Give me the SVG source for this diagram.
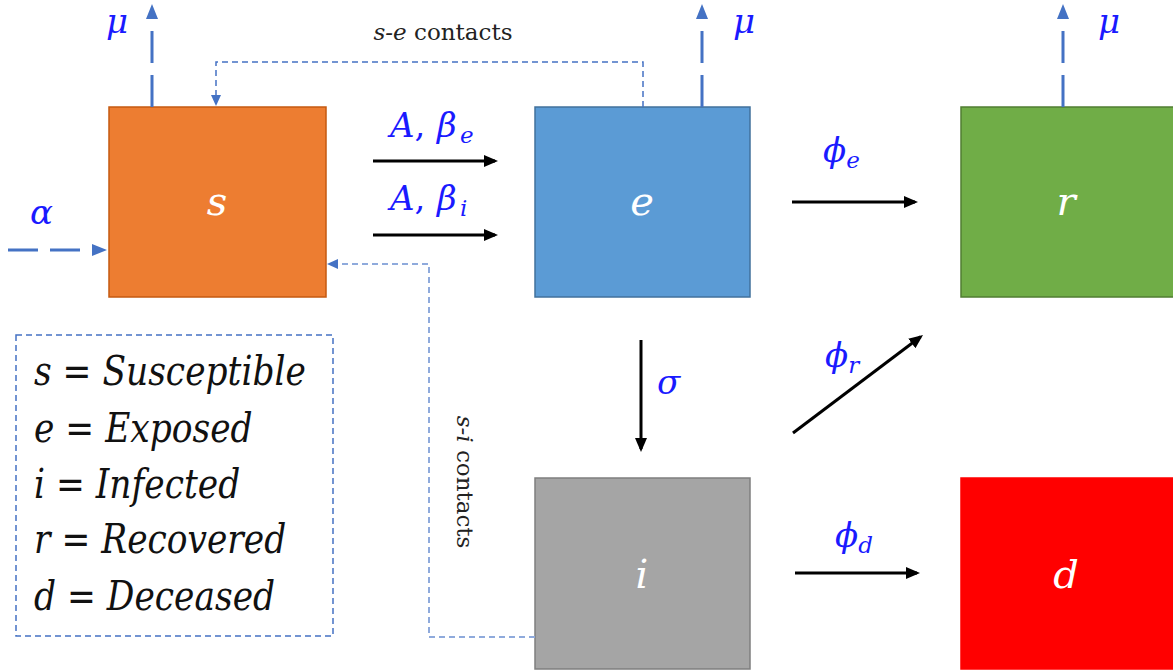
<svg xmlns="http://www.w3.org/2000/svg" width="1173" height="672" viewBox="0 0 1173 672">
<style>
.box{stroke-width:1.5}
.lbl{font-family:"DejaVu Serif",serif;font-style:italic;font-size:40px;fill:#ffffff;text-anchor:middle}
.math{font-family:"DejaVu Serif",serif;font-style:italic;font-size:34px;fill:#1a1aff}
.sub{font-size:23px}
.blk{stroke:#000;stroke-width:3;fill:none}
.mu{stroke:#4472c4;stroke-width:3;fill:none;stroke-dasharray:32 12}
.thin{stroke:#4472c4;stroke-width:1.5;fill:none;stroke-dasharray:6 4}
.light{stroke:#8faadc;stroke-width:2;fill:none;stroke-dasharray:6 4}
.note{font-family:"DejaVu Serif",serif;font-size:23px;fill:#222}
.leg{font-family:"DejaVu Serif",serif;font-style:italic;font-size:41px;fill:#111}
</style>
<defs>
<marker id="ab" markerUnits="userSpaceOnUse" markerWidth="14" markerHeight="12" viewBox="0 0 14 12" refX="11" refY="6" orient="auto"><path d="M0,0 L14,6 L0,12 z" fill="#000"/></marker>
<marker id="au" markerUnits="userSpaceOnUse" markerWidth="15" markerHeight="12" viewBox="0 0 15 12" refX="1" refY="6" orient="auto"><path d="M0,0 L15,6 L0,12 z" fill="#4472c4"/></marker>
<marker id="as" markerUnits="userSpaceOnUse" markerWidth="11" markerHeight="10" viewBox="0 0 11 10" refX="1" refY="5" orient="auto"><path d="M0,0 L11,5 L0,10 z" fill="#4472c4"/></marker>
</defs>

<g id="node-s"><rect class="box" x="109" y="107" width="217" height="190" fill="#ed7d31" stroke="#c55a11"/><text class="lbl" x="217" y="215">s</text></g>
<g id="node-e"><rect class="box" x="535" y="107" width="215" height="190" fill="#5b9bd5" stroke="#41719c"/><text class="lbl" x="642" y="215">e</text></g>
<g id="node-r"><rect class="box" x="961" y="107" width="220" height="190" fill="#70ad47" stroke="#507e32"/><text class="lbl" x="1066" y="215">r</text></g>
<g id="node-i"><rect class="box" x="535" y="478" width="215" height="191" fill="#a5a5a5" stroke="#7f7f7f"/><text class="lbl" x="642" y="588">i</text></g>
<g id="node-d"><rect class="box" x="961" y="478" width="220" height="191" fill="#ff0000" stroke="#ff0000"/><text class="lbl" x="1066" y="588">d</text></g>

<g id="legend">
<rect x="16" y="335" width="317" height="301" fill="none" stroke="#4472c4" stroke-width="1.5" stroke-dasharray="6 4"/>
<g transform="translate(34 0) scale(0.84 1)">
<text class="leg" x="0" y="385">s = Susceptible</text>
<text class="leg" x="0" y="442">e = Exposed</text>
<text class="leg" x="0" y="498">i = Infected</text>
<text class="leg" x="0" y="553">r = Recovered</text>
<text class="leg" x="0" y="610">d = Deceased</text>
</g>
</g>

<g id="connectors">
<path class="mu" d="M152 107 V18" marker-end="url(#au)"/>
<path class="mu" d="M702 107 V18" marker-end="url(#au)"/>
<path class="mu" d="M1063 107 V18" marker-end="url(#au)"/>
<path class="mu" style="stroke-dasharray:30 12" d="M8 250 H93" marker-end="url(#au)"/>
<path class="thin" d="M643 107 V62 H216 V96" marker-end="url(#as)"/>
<path class="light" d="M535 637 H429 V264 H337" marker-end="url(#as)"/>
<path class="blk" d="M373 161 H495" marker-end="url(#ab)"/>
<path class="blk" d="M373 235 H495" marker-end="url(#ab)"/>
<path class="blk" d="M792 202 H915" marker-end="url(#ab)"/>
<path class="blk" d="M641 340 V449" marker-end="url(#ab)"/>
<path class="blk" d="M793 433 L920.6 336.8" marker-end="url(#ab)"/>
<path class="blk" d="M795 573 H917" marker-end="url(#ab)"/>
</g>

<g id="labels">
<text class="math" x="106" y="33">μ</text>
<text class="math" x="733" y="33">μ</text>
<text class="math" x="1098" y="33">μ</text>
<text class="math" x="30" y="224">α</text>
<text class="math" x="390" y="137">A<tspan font-style="normal">,</tspan><tspan x="437">β</tspan><tspan class="sub" x="460" dy="6">e</tspan></text>
<text class="math" x="390" y="210">A<tspan font-style="normal">,</tspan><tspan x="437">β</tspan><tspan class="sub" x="460" dy="6">i</tspan></text>
<text class="math" x="823" y="162">ϕ<tspan class="sub" dy="6">e</tspan></text>
<text class="math" x="657" y="394">σ</text>
<text class="math" x="825" y="367">ϕ<tspan class="sub" dy="6">r</tspan></text>
<text class="math" x="835" y="547">ϕ<tspan class="sub" dy="6">d</tspan></text>
<text class="note" x="443" y="40" text-anchor="middle"><tspan font-style="italic">s-e</tspan> contacts</text>
<text class="note" transform="translate(457 482) rotate(90)" text-anchor="middle"><tspan font-style="italic">s-i</tspan> contacts</text>
</g>
</svg>
